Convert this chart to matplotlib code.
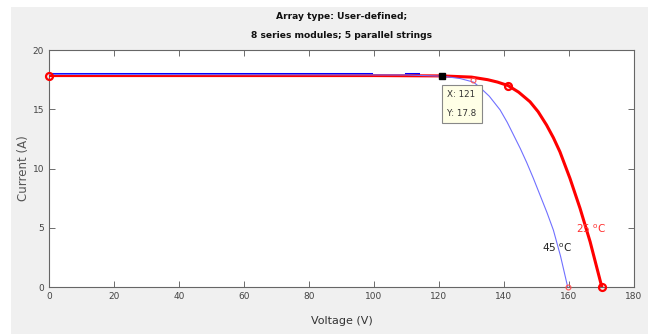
import matplotlib
matplotlib.use("Agg")
import matplotlib.pyplot as plt
from matplotlib.patches import Rectangle

plt.rcParams["font.family"] = ["DejaVu Sans"]

# I-V curve at 25 C (red)
v_25 = [0, 100, 121, 130, 135, 138, 141.3, 144.5, 148, 150.5, 153.1, 155.2,
        157.2, 160.3, 163.4, 166.5, 170.1]
i_25 = [17.85, 17.85, 17.82, 17.72, 17.5, 17.3, 17.0, 16.45, 15.64, 14.8, 13.67,
        12.6, 11.42, 9.17, 6.64, 3.82, 0.0]

# I-V curve at 45 C (blue)
v_45 = [0, 110, 121, 126.5, 130.6, 132.6, 135.5, 138.8, 141, 143, 145, 147,
        149, 151.1, 153.2, 155.2, 157.4, 159.6]
i_45 = [17.95, 17.9, 17.8, 17.6, 17.3, 16.85, 16.1, 14.95, 13.9, 12.8, 11.7,
        10.5, 9.2, 7.75, 6.3, 4.8, 2.6, 0.0]

# thick blue segments showing above the red line
blue_seg1_v = [0, 99]
blue_seg2_v = [110, 113.5]
blue_level = 18.0

# marked points
red_mark_v = [0, 141.3, 170.1]
red_mark_i = [17.85, 17.0, 0.0]
blue_mark_v = [130.6, 159.6]
blue_mark_i = [17.47, 0.0]

tip_x, tip_y = 121, 17.8

fig = plt.figure(figsize=(6.48, 3.34), dpi=100, facecolor="#f0f0f0")
# white strips at the left and top edges of the screenshot
fig.patches.append(Rectangle((0, 0), 11 / 648, 1, transform=fig.transFigure,
                             fc="white", ec="none", zorder=-1))
fig.patches.append(Rectangle((0, 1 - 7 / 334), 1, 7 / 334, transform=fig.transFigure,
                             fc="white", ec="none", zorder=-1))

ax = fig.add_axes([0.0756, 0.1407, 0.9028, 0.7093])
ax.set_facecolor("white")

ax.plot(blue_seg1_v, [blue_level] * 2, color="#0000ff", lw=2.2, zorder=2)
ax.plot(blue_seg2_v, [blue_level] * 2, color="#0000ff", lw=2.2, zorder=2)
ax.plot(v_25, i_25, color="#ff0000", lw=2.2, zorder=3)
ax.plot(v_45, i_45, color="#7070ff", lw=0.8, zorder=4)

ax.plot(red_mark_v, red_mark_i, "o", ms=5, mfc="none", mec="#ff0000", mew=1.6,
        zorder=5, clip_on=False)
ax.plot(blue_mark_v, blue_mark_i, "o", ms=3.5, mfc="none", mec="#ff5050", mew=0.8,
        zorder=5, clip_on=False)

# data tip
ax.plot([tip_x], [tip_y], "s", ms=5, color="black", zorder=6)
ax.text(tip_x + 1.6, tip_y - 1.2, f"X: {tip_x}\nY: {tip_y}", fontsize=6.3,
        color="#333333", va="top", ha="left", linespacing=2.4, zorder=7,
        bbox=dict(boxstyle="square,pad=0.6", fc="#ffffe6", ec="#888888", lw=0.8))

ax.text(162, 4.95, r"25 $^{\rm o}$C", color="#ff3030", fontsize=7.5, va="center")
ax.text(151.6, 3.27, r"45 $^{\rm o}$C", color="#222222", fontsize=7.5, va="center")

ax.set_xlim(0, 180)
ax.set_ylim(0, 20)
ax.set_xticks(range(0, 181, 20))
ax.set_yticks(range(0, 21, 5))
ax.tick_params(direction="in", top=True, right=True, length=4, width=0.6,
               labelsize=6.5, colors="#555555", labelcolor="#444444")
for s in ax.spines.values():
    s.set_color("#666666")
    s.set_linewidth(0.8)

ax.set_xlabel("Voltage (V)", fontsize=8, color="#333333", labelpad=11)
ax.set_ylabel("Current (A)", fontsize=8.5, color="#555555")
ax.yaxis.set_label_coords(-0.032, 0.5)
ax.set_title("Array type: User-defined;\n8 series modules; 5 parallel strings",
             fontsize=6.6, color="#111111", linespacing=2.4, pad=9,
             fontweight="bold")

fig.savefig("out.png", dpi=100, facecolor=fig.get_facecolor())
